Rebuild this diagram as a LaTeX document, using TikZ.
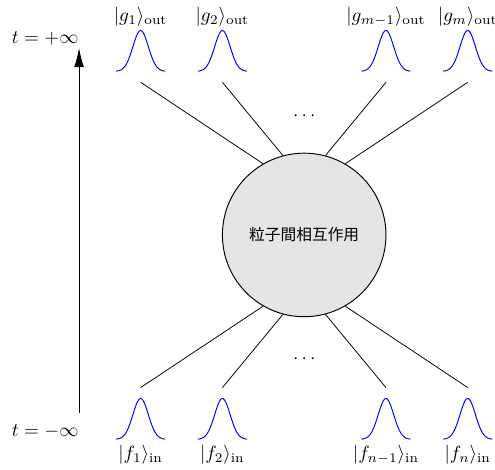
\documentclass[tikz,border=0pt]{standalone}
\usepackage{fontspec}
\newfontfamily\cjk{Noto Sans CJK JP}
\usetikzlibrary{arrows.meta}
\tikzset{
  wave/.style={blue, line width=0.5pt},
  leg/.style={black, line width=0.4pt},
  blob/.style={circle, draw, fill=gray!20, minimum size=3cm, inner sep=0pt, line width=0.5pt},
}
\newcommand{\gausswave}[2]{%
  \draw[wave] plot[domain=-0.45:0.45, samples=60, smooth] ({#1+\x},{#2+0.75*exp(-(\x)*(\x)/0.04)});}
\newcommand{\gausswavedown}[2]{%
  \draw[wave] plot[domain=-0.45:0.45, samples=60, smooth] ({#1+\x},{#2-0.75+0.75*exp(-(\x)*(\x)/0.04)});}
\begin{document}
\begin{tikzpicture}
\useasboundingbox (-5.58,-4.30) rectangle (3.50,4.31);
\node[blob] (c) at (0,0) {\cjk\fontsize{8.2}{10}\selectfont 粒子間相互作用};
% outgoing wave packets
\gausswave{-3}{3}
\gausswave{-1.5}{3}
\gausswave{1.5}{3}
\gausswave{3}{3}
% incoming wave packets
\gausswavedown{-3}{-3}
\gausswavedown{-1.5}{-3}
\gausswavedown{1.5}{-3}
\gausswavedown{3}{-3}
% labels
\node (g1) at (-3,4.0) {$|g_1\rangle_{\mathrm{out}}$};
\node (g2) at (-1.5,4.0) {$|g_2\rangle_{\mathrm{out}}$};
\node (g3) at (1.5,4.0) {$|g_{m-1}\rangle_{\mathrm{out}}$};
\node (g4) at (3,4.0) {$|g_m\rangle_{\mathrm{out}}$};
\node (f1) at (-3,-4.03) {$|f_1\rangle_{\mathrm{in}}$};
\node (f2) at (-1.5,-4.03) {$|f_2\rangle_{\mathrm{in}}$};
\node (f3) at (1.5,-4.03) {$|f_{n-1}\rangle_{\mathrm{in}}$};
\node (f4) at (3,-4.03) {$|f_n\rangle_{\mathrm{in}}$};
% leg end points
\coordinate (a1) at (-3,2.8);
\coordinate (a2) at (-1.5,2.8);
\coordinate (a3) at (1.5,2.8);
\coordinate (a4) at (3,2.8);
\coordinate (b1) at (-3,-2.8);
\coordinate (b2) at (-1.5,-2.8);
\coordinate (b3) at (1.5,-2.8);
\coordinate (b4) at (3,-2.8);
\draw[leg] (a1) -- (c.120);
\draw[leg] (a2) -- (c.105);
\draw[leg] (a3) -- (c.75);
\draw[leg] (a4) -- (c.60);
\draw[leg] (b1) -- (c.240);
\draw[leg] (b2) -- (c.255);
\draw[leg] (b3) -- (c.285);
\draw[leg] (b4) -- (c.300);
% dots
\node (d1) at (0,2.18) {$\cdots$};
\node (d2) at (0,-2.28) {$\cdots$};
% time axis
\node (tp) at (-4.75,3.6) {$t=+\infty$};
\node (tm) at (-4.75,-3.6) {$t=-\infty$};
\coordinate (ts) at (-4.13,-3.27);
\coordinate (te) at (-4.13,3.43);
\draw[-{Latex[length=3.5mm,width=1.8mm]}, line width=0.5pt] (ts) -- (te);
\end{tikzpicture}
\end{document}
